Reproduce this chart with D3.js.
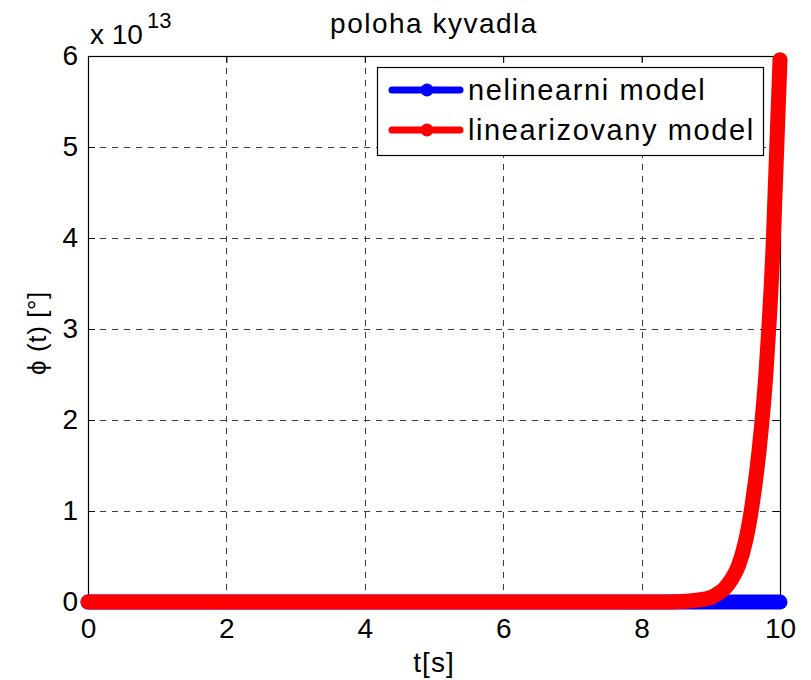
<!DOCTYPE html>
<html>
<head>
<meta charset="utf-8">
<script src="https://cdn.jsdelivr.net/npm/d3@7"></script>
<style>
  html, body { margin: 0; padding: 0; background: #fff; }
  svg text { font-family: "Liberation Sans", Arial, sans-serif; fill: #000; }
</style>
</head>
<body>
<svg id="chart" width="811" height="680"></svg>
<script>
// time samples [s]
const timeNonlin = [0, 2, 4, 6, 8, 9, 9.5, 10];
// nonlinear model, in units of 1e13 degrees (stays bounded)
const phiNonlin = [0, 0, 0, 0, 0, 0, 0, 0];

const timeLin = [0, 2, 4, 6, 8, 8.5, 8.8, 9.0, 9.1, 9.2, 9.3, 9.4, 9.5, 9.6, 9.7, 9.8, 9.9, 10.0];
// linearized model, in units of 1e13 degrees
const phiLin = [0, 0, 0, 0, 0, 0.002, 0.02, 0.05, 0.09, 0.15, 0.25, 0.4, 0.66, 1.08, 1.68, 2.55, 3.9, 5.96];

const xTicks = [0, 2, 4, 6, 8, 10];
const yTicks = [0, 1, 2, 3, 4, 5, 6];

const seriesNames = ["nelinearni model", "linearizovany model"];
const seriesColors = ["#0000ff", "#ff0000"];

const svg = d3.select("#chart");
const m = { left: 88, right: 780, top: 56, bottom: 602 };

const x = d3.scaleLinear().domain([0, 10]).range([m.left, m.right]);
const y = d3.scaleLinear().domain([0, 6]).range([m.bottom, m.top]);

// dashed grid
const grid = svg.append("g").attr("stroke", "#000").attr("stroke-width", 1)
  .attr("stroke-dasharray", "6,6").attr("shape-rendering", "crispEdges").attr("opacity", 0.75);
grid.selectAll("line.gx").data(xTicks.slice(1, -1)).join("line")
  .attr("x1", d => Math.round(x(d)) + 0.5).attr("x2", d => Math.round(x(d)) + 0.5)
  .attr("y1", m.top).attr("y2", m.bottom);
grid.selectAll("line.gy").data(yTicks.slice(1, -1)).join("line")
  .attr("y1", d => Math.round(y(d)) + 0.5).attr("y2", d => Math.round(y(d)) + 0.5)
  .attr("x1", m.left).attr("x2", m.right);

// axes (ticks point inward)
const fontSize = 28;
const xAxis = d3.axisBottom(x).tickValues(xTicks).tickSize(-7).tickPadding(16).tickFormat(d3.format("d"));
const yAxis = d3.axisLeft(y).tickValues(yTicks).tickSize(-7).tickPadding(10).tickFormat(d3.format("d"));
const xTop = d3.axisTop(x).tickValues(xTicks).tickSize(-7).tickFormat("");
const yRight = d3.axisRight(y).tickValues(yTicks).tickSize(-7).tickFormat("");

function styleAxis(g) {
  g.select(".domain").remove();
  g.selectAll(".tick line").attr("stroke", "#000");
  g.selectAll(".tick text").attr("font-size", fontSize)
    .attr("font-family", "Liberation Sans, Arial, sans-serif").attr("fill", "#000");
}
svg.append("g").attr("transform", `translate(0,${m.bottom})`).call(xAxis).call(styleAxis);
svg.append("g").attr("transform", `translate(${m.left},0)`).call(yAxis).call(styleAxis);
svg.append("g").attr("transform", `translate(0,${m.top})`).call(xTop).call(styleAxis);
svg.append("g").attr("transform", `translate(${m.right},0)`).call(yRight).call(styleAxis);

// box
svg.append("rect").attr("x", m.left + 0.5).attr("y", m.top + 0.5)
  .attr("width", m.right - m.left).attr("height", m.bottom - m.top)
  .attr("fill", "none").attr("stroke", "#000").attr("stroke-width", 1.2);

// series
const line = d3.line().x(d => x(d[0])).y(d => y(d[1])).curve(d3.curveMonotoneX);
const series = [
  d3.zip(timeNonlin, phiNonlin),
  d3.zip(timeLin, phiLin)
];
series.forEach((pts, i) => {
  svg.append("path").datum(pts).attr("d", line)
    .attr("fill", "none").attr("stroke", seriesColors[i]).attr("stroke-width", 15)
    .attr("stroke-linecap", "round").attr("stroke-linejoin", "round");
});

// legend
const lg = svg.append("g");
lg.append("rect").attr("x", 377.5).attr("y", 67.5).attr("width", 386).attr("height", 88)
  .attr("fill", "#fff").attr("stroke", "#000").attr("stroke-width", 1.2);
seriesNames.forEach((name, i) => {
  const cy = 90 + i * 40;
  lg.append("line").attr("x1", 392).attr("x2", 460).attr("y1", cy).attr("y2", cy)
    .attr("stroke", seriesColors[i]).attr("stroke-width", 7).attr("stroke-linecap", "round");
  lg.append("circle").attr("cx", 427).attr("cy", cy).attr("r", 6.5).attr("fill", seriesColors[i]);
  lg.append("text").attr("x", 468).attr("y", cy + 10).attr("font-size", 29)
    .attr("letter-spacing", 1.6).text(name);
});

// title, labels, exponent
svg.append("text").attr("x", 434).attr("y", 33).attr("text-anchor", "middle")
  .attr("font-size", 28).attr("letter-spacing", 1.5).text("poloha kyvadla");
svg.append("text").attr("x", 434).attr("y", 672).attr("text-anchor", "middle")
  .attr("font-size", 28).attr("letter-spacing", 1).text("t[s]");
svg.append("text").attr("transform", "translate(46,333) rotate(-90)").attr("text-anchor", "middle")
  .attr("font-size", 26).attr("letter-spacing", 0.6)
  .attr("font-family", "Liberation Serif, Times New Roman, serif")
  .text("ϕ (t) [°]");
const ex = svg.append("text").attr("x", 90).attr("y", 44).attr("font-size", 28);
ex.append("tspan").text("x 10");
ex.append("tspan").attr("dy", -16).attr("dx", 4).attr("font-size", 22).text("13");
</script>
</body>
</html>
